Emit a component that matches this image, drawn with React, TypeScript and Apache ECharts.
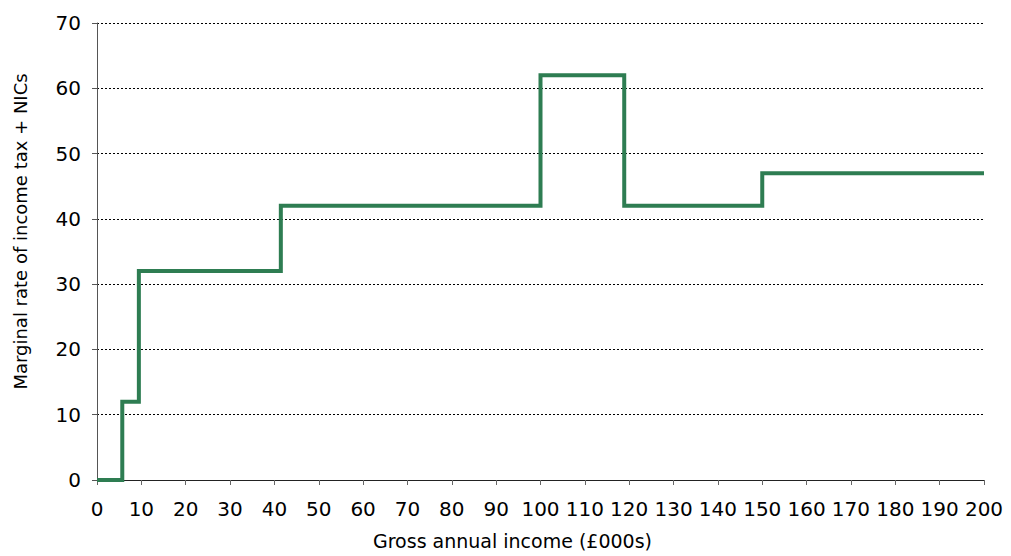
import React, { useEffect, useRef } from "react";
import * as echarts from "echarts";

// Breakpoints (£000s) and marginal rates that apply from each breakpoint
const breakpoints = [0, 5.7, 9.44, 41.45, 100, 118.88, 150, 200];
const rates = [0, 12, 32, 42, 62, 42, 47, 47];
const xTicks = { min: 0, max: 200, interval: 10 };
const yTicks = { min: 0, max: 70, interval: 10 };

export default function App() {
  const ref = useRef<HTMLDivElement>(null);
  useEffect(() => {
    if (!ref.current) return;
    const chart = echarts.init(ref.current, null, { renderer: "svg" });
    const font = "'DejaVu Sans', sans-serif";
    chart.setOption({
      animation: false,
      grid: { left: 97, right: 27, top: 23, bottom: 76, containLabel: false },
      xAxis: {
        type: "value",
        min: xTicks.min,
        max: xTicks.max,
        interval: xTicks.interval,
        name: "Gross annual income (£000s)",
        nameLocation: "middle",
        nameGap: 51,
        nameTextStyle: { color: "#000", fontSize: 19, fontFamily: font, padding: [0, 56, 0, 0] },
        axisLine: { show: true, lineStyle: { color: "#222", width: 1 } },
        axisTick: { show: true, length: 5, lineStyle: { color: "#666" } },
        axisLabel: { color: "#000", fontSize: 20, fontFamily: font, margin: 19 },
        splitLine: { show: false },
      },
      yAxis: {
        type: "value",
        min: yTicks.min,
        max: yTicks.max,
        interval: yTicks.interval,
        name: "Marginal rate of income tax + NICs",
        nameLocation: "middle",
        nameGap: 68,
        nameTextStyle: { color: "#000", fontSize: 18, fontFamily: font, padding: [0, 0, 0, 40] },
        axisLine: { show: true, lineStyle: { color: "#555", width: 1 } },
        axisTick: { show: true, length: 5, lineStyle: { color: "#555" } },
        axisLabel: { color: "#000", fontSize: 20, fontFamily: font, margin: 16 },
        splitLine: { show: true, lineStyle: { color: "#000", width: 1, type: [2, 2] } },
      },
      series: [
        {
          type: "line",
          step: "end",
          showSymbol: false,
          symbol: "none",
          lineStyle: { color: "#2e7d52", width: 4, join: "miter" },
          data: breakpoints.map((b, i) => [b, rates[i]]),
        },
      ],
    });
    return () => chart.dispose();
  }, []);
  return <div ref={ref} style={{ width: 1011, height: 556, position: "absolute", left: 0, top: 0 }} />;
}
